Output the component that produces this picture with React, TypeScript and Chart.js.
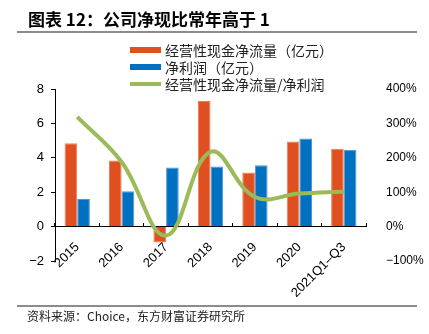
import React, { useEffect, useRef } from "react";
import { Chart, registerables } from "chart.js";

Chart.register(...registerables);

const categories = ["2015", "2016", "2017", "2018", "2019", "2020", "2021Q1–Q3"];
const ocfValues = [4.85, 3.84, -0.92, 7.3, 3.14, 4.95, 4.53];
const netProfitValues = [1.6, 2.05, 3.43, 3.5, 3.57, 5.12, 4.47];
const ratioValues = [319, 188, -26, 217, 86, 96, 102];

const seriesNames = ["经营性现金净流量（亿元）", "净利润（亿元）", "经营性现金净流量/净利润"];
const titleText = "图表 12：公司净现比常年高于 1";
const sourceText = "资料来源：Choice，东方财富证券研究所";

const ORANGE = "#E04F1F";
const BLUE = "#0070C0";
const GREEN = "#9BBB59";

const W = 429;
const H = 334;

export default function App() {
  const ref = useRef<HTMLCanvasElement | null>(null);

  useEffect(() => {
    if (!ref.current) return;
    const chart = new Chart(ref.current, {
      type: "bar",
      data: {
        labels: categories,
        datasets: [
          {
            type: "line",
            label: seriesNames[2],
            data: ratioValues,
            yAxisID: "y1",
            borderColor: GREEN,
            backgroundColor: GREEN,
            borderWidth: 4,
            pointRadius: 0,
            tension: 0.4,
            order: 0,
          } as any,
          {
            label: seriesNames[0],
            data: ocfValues,
            yAxisID: "y",
            backgroundColor: ORANGE,
            borderColor: "#EE7E55",
            borderWidth: 1,
            categoryPercentage: 0.57,
            barPercentage: 1,
            order: 1,
          },
          {
            label: seriesNames[1],
            data: netProfitValues,
            yAxisID: "y",
            backgroundColor: BLUE,
            borderColor: "#4F97D6",
            borderWidth: 1,
            categoryPercentage: 0.57,
            barPercentage: 1,
            order: 1,
          },
        ],
      },
      options: {
        responsive: false,
        animation: false,
        layout: { padding: { top: 89, bottom: 73, left: 0, right: 0 } },
        plugins: {
          legend: { display: false },
          tooltip: { enabled: false },
          title: { display: false },
        },
        scales: {
          x: {
            position: { y: 0 } as any,
            offset: true,
            grid: {
              offset: true,
              drawOnChartArea: false,
              drawTicks: true,
              tickLength: -4,
              color: "#000",
              lineWidth: 1,
            },
            border: { display: true, color: "#000", width: 1 },
            ticks: {
              maxRotation: 45,
              minRotation: 45,
              padding: 17,
              color: "#000",
              font: { family: "'Liberation Sans', Arial, sans-serif", size: 13 },
              autoSkip: false,
            },
          },
          y: {
            position: "left",
            min: -2,
            max: 8,
            ticks: {
              stepSize: 2,
              padding: 7,
              color: "#000",
              font: { family: "'Liberation Sans', Arial, sans-serif", size: 13 },
              callback: (v: any) => (Number(v) < 0 ? "−" + Math.abs(Number(v)) : String(v)),
            },
            grid: { drawOnChartArea: false, drawTicks: true, tickLength: 4, color: "#000" },
            border: { display: true, color: "#000", width: 1 },
            afterFit: (s: any) => {
              s.width = 55;
            },
          },
          y1: {
            position: "right",
            min: -100,
            max: 400,
            ticks: {
              stepSize: 100,
              padding: 12,
              color: "#000",
              font: { family: "'Liberation Sans', Arial, sans-serif", size: 12 },
              callback: (v: any) => (Number(v) < 0 ? "−" + Math.abs(Number(v)) + "%" : v + "%"),
            },
            grid: { display: false, drawOnChartArea: false },
            border: { display: false },
            afterFit: (s: any) => {
              s.width = W - 366;
            },
          },
        },
      },
    });
    return () => chart.destroy();
  }, []);

  const legendRows = [
    { name: seriesNames[0], color: ORANGE, h: 6 },
    { name: seriesNames[1], color: BLUE, h: 6 },
    { name: seriesNames[2], color: GREEN, h: 4 },
  ];

  return (
    <div
      style={{
        position: "absolute",
        left: 0,
        top: 0,
        width: W,
        height: H,
        background: "#fff",
        overflow: "hidden",
        fontFamily: "'Noto Sans CJK SC', sans-serif",
      }}
    >
      <canvas ref={ref} width={W} height={H} style={{ position: "absolute", left: 0, top: 0, display: "block" }} />
      <div
        style={{
          position: "absolute",
          left: 28,
          top: 9,
          fontSize: 17,
          fontWeight: 700,
          color: "#000",
          lineHeight: "20px",
          whiteSpace: "nowrap",
        }}
      >
        {titleText}
      </div>
      <div style={{ position: "absolute", left: 17, top: 31, width: 400, height: 2, background: "#8c8c8c" }} />
      {legendRows.map((r, i) => (
        <div
          key={i}
          style={{
            position: "absolute",
            left: 130,
            top: 41 + i * 17,
            height: 18,
            display: "flex",
            alignItems: "center",
            whiteSpace: "nowrap",
          }}
        >
          <div style={{ width: 31, height: r.h, background: r.color, marginRight: 4 }} />
          <span style={{ fontSize: 14, lineHeight: "18px", color: "#222" }}>{r.name}</span>
        </div>
      ))}
      <div style={{ position: "absolute", left: 17, top: 305, width: 400, height: 2, background: "#8c8c8c" }} />
      <div
        style={{
          position: "absolute",
          left: 27,
          top: 308,
          fontSize: 12,
          lineHeight: "16px",
          color: "#222",
          whiteSpace: "nowrap",
        }}
      >
        {sourceText}
      </div>
    </div>
  );
}
